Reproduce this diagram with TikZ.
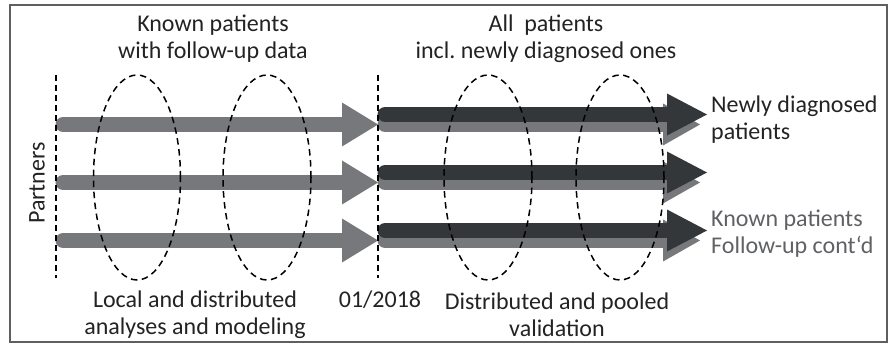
\documentclass[tikz,border=0pt]{standalone}
\usepackage{fontspec}
\setmainfont{Carlito}
\usetikzlibrary{arrows.meta}

\definecolor{lightbar}{RGB}{118,120,123}
\definecolor{darkbar}{RGB}{52,55,58}
\definecolor{captiontext}{RGB}{35,35,35}
\definecolor{knowntext}{RGB}{95,97,100}

\tikzset{
	txt/.style={text=captiontext, font=\fontsize{24}{27}\selectfont, align=center, inner sep=0pt},
	oldbar/.style={lightbar, line width=15pt, line cap=round, -{Triangle[length=36pt,width=44pt,line width=0pt]}},
	newbar/.style={darkbar, line width=15pt, line cap=round, -{Triangle[length=40pt,width=42pt,line width=0pt]}},
	cutline/.style={line width=1.6pt, dash pattern=on 6pt off 4pt},
	cohort/.style={line width=1.5pt, dash pattern=on 6.5pt off 4.5pt}
}

\begin{document}
\begin{tikzpicture}[x=1pt, y=-1pt]
		\useasboundingbox (0,0) rectangle (891,344);
		%frame
		\draw[line width=1.4pt, darkbar!80] (10,5) rectangle (887,342);
		
		%time points
		\coordinate (start-top) at (56,75);
		\coordinate (start-bottom) at (56,278);
		\coordinate (cut-top) at (378,75);
		\coordinate (cut-bottom) at (378,278);
		
		%bars per partner
		\foreach \r/\y in {1/124.5, 2/182.5, 3/240.5} {
			\coordinate (old-start-\r) at (63,\y);
			\coordinate (old-end-\r) at (378,\y);
			\coordinate (cont-start-\r) at (385,\y);
			\coordinate (cont-end-\r) at (700,\y);
			\coordinate (new-start-\r) at (385,\y-10);
			\coordinate (new-end-\r) at (707,\y-10);
			\draw[oldbar] (old-start-\r) -- (old-end-\r);
			\draw[oldbar, -{Triangle[length=37pt,width=42pt,line width=0pt]}] (cont-start-\r) -- (cont-end-\r);
			\draw[newbar] (new-start-\r) -- (new-end-\r);
		}
		
		%dashed cuts
		\draw[cutline] (start-top) -- (start-bottom);
		\draw[cutline] (cut-top) -- (cut-bottom);
		
		%analysis groups
		\draw[cohort] (137,177.5) ellipse [x radius=43.5pt, y radius=102.5pt];
		\draw[cohort] (267,177.5) ellipse [x radius=44pt, y radius=102.5pt];
		\draw[cohort] (488,177.5) ellipse [x radius=44pt, y radius=102.5pt];
		\draw[cohort] (620,177.5) ellipse [x radius=44pt, y radius=102.5pt];
		
		%captions
		\node[txt] (known) at (213,39) {Known patients\\with follow-up data};
		\node[txt] (all) at (546,39) {All\ \ patients\\incl.\ newly diagnosed ones};
		\node[txt] (local) at (195,315) {Local and distributed\\analyses and modeling};
		\node[txt] (date) at (380,300) {01/2018};
		\node[txt] (pooled) at (557,315) {Distributed and pooled\\validation};
		\node[txt, rotate=90] (partners) at (37,183) {Partners};
		\node[txt, anchor=west, align=left] (newly) at (711,119.5) {Newly diagnosed\\patients};
		\node[txt, anchor=west, align=left, text=knowntext] (followup) at (711,234) {Known patients\\Follow-up cont‘d};
\end{tikzpicture}
\end{document}
